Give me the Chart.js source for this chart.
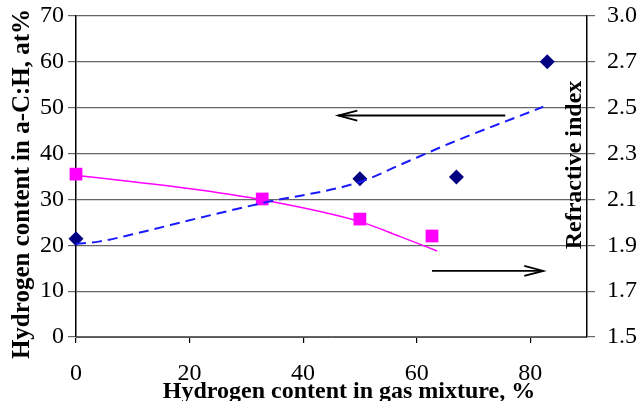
<!DOCTYPE html>
<html>
<head>
<meta charset="utf-8">
<script src="https://cdn.jsdelivr.net/npm/chart.js@4.4.0/dist/chart.umd.min.js"></script>
<style>
  html, body { margin: 0; padding: 0; background: #fff; }
</style>
</head>
<body>
<canvas id="chart" width="639" height="401"></canvas>
<script>
// H content of the film (left axis), diamonds
const filmGas = [0, 50, 67, 83];
const filmHydrogen = [21.4, 34.5, 34.9, 60];

// refractive index (right axis), squares
const indexGas = [0, 32.8, 50, 62.7];
const refractiveIndex = [2.261, 2.145, 2.051, 1.972];

// trend lines
const filmFitGas = [0, 4, 10, 21.8, 32.8, 50, 57, 66, 82.3];
const filmFitHydrogen = [20.3, 20.8, 22.4, 26.0, 29.2, 33.8, 37.5, 42.3, 50.2];
const indexFitGas = [0, 21.8, 32.8, 50, 57.1, 63.6];
const indexFitValues = [2.256, 2.187, 2.141, 2.039, 1.969, 1.902];

// tick labels of the right axis
const rightTickLabels = ['1.5', '1.7', '1.9', '2.1', '2.3', '2.5', '2.7', '3.0'];

// arrows: [fromX, toX, atY] in gas % / left axis units
const leftArrow = [75.6, 46.2, 48.3];
const rightArrow = [62.7, 82.3, 14.4];

const serif = 'Liberation Serif, Times New Roman, serif';

function points(xs, ys) {
    return xs.map((x, i) => ({ x: x, y: ys[i] }));
}

function rotatedText(ctx, text, x, y) {
    ctx.save();
    ctx.translate(x, y);
    ctx.rotate(-Math.PI / 2);
    ctx.fillText(text, 0, 0);
    ctx.restore();
}

// fixed box sizes, no extra label padding pushed into the layout
function fixBox(w, h) {
    return s => {
        if (w) s.width = w;
        if (h) s.height = h;
        s.paddingTop = s.paddingBottom = s.paddingLeft = s.paddingRight = 0;
    };
}

const extrasPlugin = {
    id: 'extras',
    afterDatasetsDraw(chart) {
        const ctx = chart.ctx;
        const sx = chart.scales.x, sy = chart.scales.y;
        const area = chart.chartArea;
        ctx.save();
        // arrows
        ctx.strokeStyle = '#000';
        ctx.lineWidth = 1.8;
        [leftArrow, rightArrow].forEach(a => {
            const x0 = sx.getPixelForValue(a[0]);
            const x1 = sx.getPixelForValue(a[1]);
            const y = sy.getPixelForValue(a[2]);
            const dir = x1 > x0 ? 1 : -1;
            ctx.beginPath();
            ctx.moveTo(x0, y);
            ctx.lineTo(x1, y);
            ctx.stroke();
            ctx.beginPath();
            ctx.moveTo(x1 - dir * 19, y - 5);
            ctx.lineTo(x1, y);
            ctx.lineTo(x1 - dir * 19, y + 5);
            ctx.stroke();
        });

        // axis titles
        ctx.fillStyle = '#000';
        ctx.textAlign = 'center';
        ctx.textBaseline = 'alphabetic';
        ctx.font = 'bold 24px ' + serif;
        ctx.fillText('Hydrogen content in gas mixture, %', area.left + 273, area.bottom + 61);
        rotatedText(ctx, 'Refractive index', area.right - 6, area.top + 149);
        ctx.font = 'bold 25px ' + serif;
        rotatedText(ctx, 'Hydrogen content in a-C:H, at%', area.left - 47, area.top + 168);
        ctx.restore();
    }
};

new Chart(document.getElementById('chart'), {
    type: 'scatter',
    data: {
        datasets: [
            {
                type: 'line',
                data: points(filmFitGas, filmFitHydrogen),
                yAxisID: 'y',
                borderColor: '#1a1aff',
                borderWidth: 2,
                borderDash: [10, 6],
                cubicInterpolationMode: 'monotone',
                pointRadius: 0,
                fill: false
            },
            {
                type: 'line',
                data: points(indexFitGas, indexFitValues),
                yAxisID: 'y1',
                borderColor: '#ff00ff',
                borderWidth: 1.5,
                cubicInterpolationMode: 'monotone',
                pointRadius: 0,
                fill: false
            },
            {
                data: points(filmGas, filmHydrogen),
                yAxisID: 'y',
                clip: false,
                pointStyle: 'rectRot',
                pointRadius: 7.5,
                backgroundColor: '#000080',
                borderColor: '#000080',
                borderWidth: 0
            },
            {
                data: points(indexGas, refractiveIndex),
                yAxisID: 'y1',
                clip: false,
                pointStyle: 'rect',
                pointRadius: 9,
                backgroundColor: '#ff00ff',
                borderColor: '#ff00ff',
                borderWidth: 0
            }
        ]
    },
    options: {
        responsive: false,
        animation: false,
        layout: { padding: { top: 16, left: 0, right: 0, bottom: 0 } },
        plugins: { legend: { display: false }, tooltip: { enabled: false } },
        scales: {
            x: {
                type: 'linear',
                position: 'bottom',
                min: 0,
                max: 90,
                afterFit: fixBox(0, 64),
                ticks: {
                    stepSize: 20,
                    includeBounds: false,
                    color: '#000',
                    padding: 16,
                    font: { family: serif, size: 24 }
                },
                grid: { drawOnChartArea: false, tickLength: 6, tickColor: '#000', lineWidth: 1.2 },
                border: { color: '#555', width: 1 }
            },
            y: {
                position: 'left',
                min: 0,
                max: 70,
                afterFit: fixBox(76, 0),
                ticks: {
                    stepSize: 10,
                    color: '#000',
                    padding: 4,
                    font: { family: serif, size: 24 }
                },
                grid: { color: '#666', lineWidth: 1.2, tickLength: 8, tickColor: '#666' },
                border: { color: '#000', width: 1.5 }
            },
            y1: {
                position: 'right',
                min: 1.5,
                max: 3.0,
                afterFit: fixBox(52, 0),
                ticks: {
                    count: 8,
                    color: '#000',
                    padding: 12,
                    font: { family: serif, size: 24 },
                    callback: (v, i) => rightTickLabels[i]
                },
                grid: { drawOnChartArea: false, tickLength: 8, tickColor: '#666', lineWidth: 1.2 },
                border: { color: '#000', width: 1.5 }
            }
        }
    },
    plugins: [extrasPlugin]
});
</script>
</body>
</html>
